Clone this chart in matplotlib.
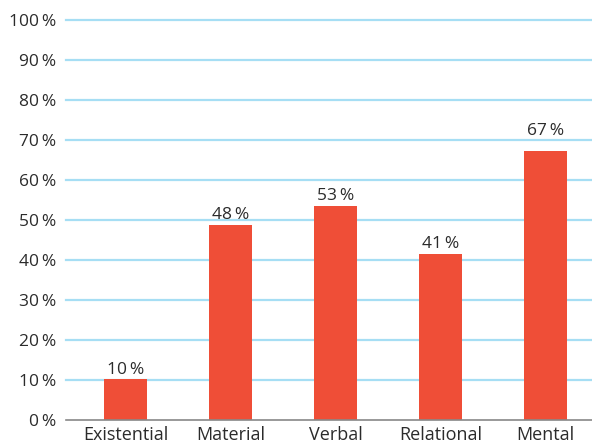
import matplotlib.pyplot as plt

categories = ["Existential", "Material", "Verbal", "Relational", "Mental"]
values = [10.2, 48.8, 53.6, 41.6, 67.2]
labels = ["10\u2009%", "48\u2009%", "53\u2009%", "41\u2009%", "67\u2009%"]
yticks = list(range(0, 101, 10))

# the last label sits a bit higher above its bar in the original
label_pad = [0.4, 0.4, 0.4, 0.4, 3.0]

plt.rcParams['font.family'] = ['Open Sans', 'DejaVu Sans']
txt = '#2b2b2b'

fig = plt.figure(figsize=(5.92, 4.46), dpi=100)
ax = fig.add_axes([66 / 592, 26 / 446, 526 / 592, 400 / 446])

x = range(len(categories))
ax.bar(x, values, width=0.41, color='#ef4e37', zorder=3)
for i, (v, lab) in enumerate(zip(values, labels)):
    ax.text(i, v + label_pad[i], lab, ha='center', va='bottom', fontsize=12.5, color=txt)

ax.set_xlim(-0.567, 4.443)
ax.set_ylim(0, 100)
ax.set_yticks(yticks)
ax.set_yticklabels([f"{t}\u2009%" for t in yticks], fontsize=12.5, color=txt)
ax.set_xticks(list(x))
ax.set_xticklabels(categories, fontsize=13, color=txt)
ax.tick_params(length=0)
ax.tick_params(axis='y', pad=7)
ax.tick_params(axis='x', pad=4)

for t in yticks[1:]:
    ax.axhline(t, color='#a6def4', linewidth=1.6, zorder=1, clip_on=False)

for s in ['top', 'right', 'left']:
    ax.spines[s].set_visible(False)
ax.spines['bottom'].set_color('#888888')
ax.spines['bottom'].set_linewidth(1.2)
ax.spines['bottom'].set_zorder(4)

fig.savefig('out.png', dpi=100)
